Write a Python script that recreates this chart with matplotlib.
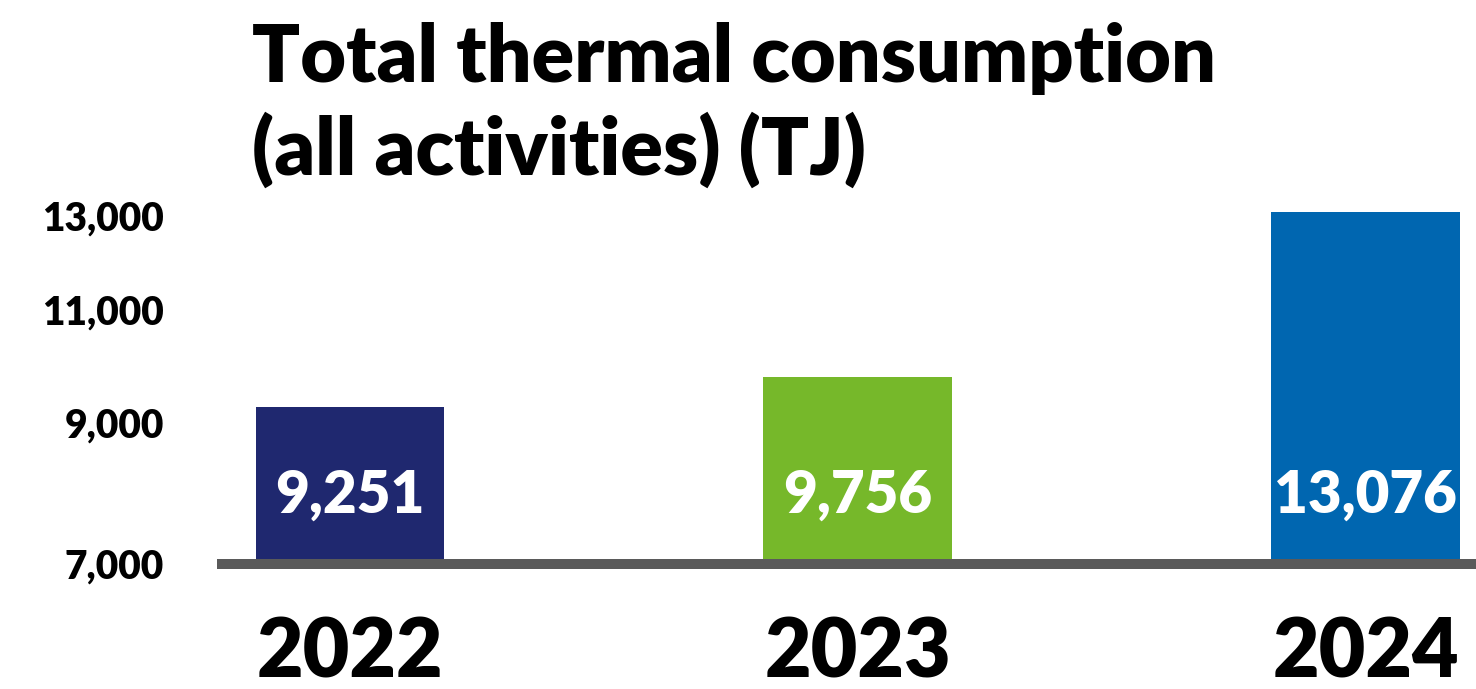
import matplotlib
matplotlib.use("Agg")
import matplotlib.pyplot as plt

years = ["2022", "2023", "2024"]
consumption_tj = [9251, 9756, 13076]
bar_colors = ["#1f286f", "#76b82a", "#0066b0"]
y_ticks = [7000, 9000, 11000, 13000]

plt.rcParams["font.family"] = ["Lato", "DejaVu Sans"]
W = 800  # heavier than plain bold, closer to the reference

fig = plt.figure(figsize=(14.76, 6.89), dpi=100)
ax = fig.add_axes([222 / 1476, 125 / 689, 1 - 222 / 1476, 564 / 689])

x = range(len(years))
ax.bar(x, consumption_tj, width=0.372, bottom=0, color=bar_colors, zorder=2)

# value labels inside the bars, near the base
for i, v in enumerate(consumption_tj):
    ax.text(i, 0.122, f"{v:,}", transform=ax.get_xaxis_transform(),
            ha="center", va="center", color="white", fontsize=42, fontweight=W)

ax.set_yscale("log")
ax.set_ylim(7000, 7000 * 2.72)
ax.set_xlim(-0.252, 2.217)
ax.set_yticks(y_ticks, [f"{t:,}" for t in y_ticks], fontsize=28, fontweight=W)
ax.yaxis.set_minor_locator(matplotlib.ticker.NullLocator())
ax.set_xticks(list(x), years, fontsize=58, fontweight=W)
ax.tick_params(axis="y", length=0, pad=42)
ax.tick_params(axis="x", length=0, pad=38)

for side in ("top", "right", "left"):
    ax.spines[side].set_visible(False)
ax.spines["bottom"].set_color("#5a5a5a")
ax.spines["bottom"].set_linewidth(7.2)
ax.spines["bottom"].set_zorder(3)

fig.text(252 / 1476, 1 - 22 / 689, "Total thermal consumption\n(all activities) (TJ)",
         ha="left", va="top", fontsize=57, fontweight=W, linespacing=1.26)

fig.savefig("out.png", dpi=100)
